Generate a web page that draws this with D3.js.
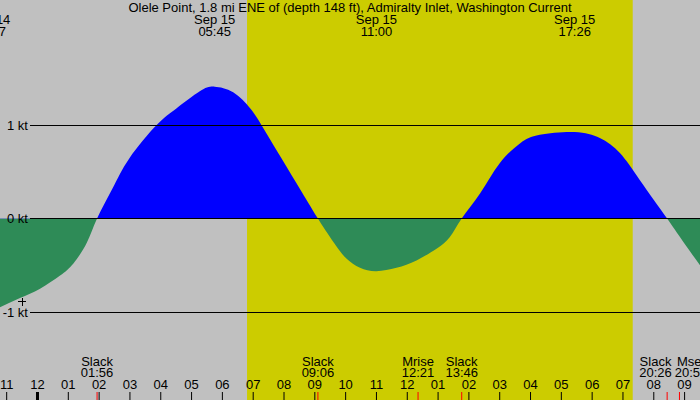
<!DOCTYPE html>
<meta charset="utf-8">
<body style="margin:0">
<script src="https://d3js.org/d3.v7.min.js"></script>
<script>
  // chart text and values
  var title = "Olele Point, 1.8 mi ENE of (depth 148 ft), Admiralty Inlet, Washington Current";

  var curveTimes = [
    "Sep 14 22:47", "Sep 14 23:26", "Sep 15 00:05", "Sep 15 00:44", "Sep 15 01:10", "Sep 15 01:36",
    "Sep 15 01:56", "Sep 15 02:26", "Sep 15 02:59", "Sep 15 03:52", "Sep 15 04:31", "Sep 15 05:16",
    "Sep 15 05:45", "Sep 15 06:21", "Sep 15 06:54", "Sep 15 07:16", "Sep 15 07:55", "Sep 15 08:34",
    "Sep 15 09:06", "Sep 15 09:23", "Sep 15 09:43", "Sep 15 10:02", "Sep 15 10:28", "Sep 15 11:00",
    "Sep 15 11:39", "Sep 15 12:18", "Sep 15 12:57", "Sep 15 13:23", "Sep 15 13:46", "Sep 15 14:22",
    "Sep 15 15:00", "Sep 15 15:40", "Sep 15 16:18", "Sep 15 17:26", "Sep 15 18:15", "Sep 15 18:54",
    "Sep 15 19:33", "Sep 15 20:26", "Sep 15 21:00", "Sep 15 21:30"
  ];
  var curveSpeeds = [
    -0.95, -0.85, -0.75, -0.61, -0.48, -0.26,
    0, 0.32, 0.645, 1.0, 1.18, 1.36,
    1.41, 1.35, 1.18, 1.0, 0.645, 0.29,
    0, -0.144, -0.305, -0.43, -0.527, -0.563,
    -0.527, -0.448, -0.323, -0.198, 0, 0.27,
    0.59, 0.806, 0.896, 0.925, 0.86, 0.70,
    0.41, 0, -0.27, -0.50
  ];

  var maxTimes = ["Sep 14 22:27", "Sep 15 05:45", "Sep 15 11:00", "Sep 15 17:26"];

  var eventNames = ["Slack", "Slack", "Mrise", "Slack", "Slack", "Mset"];
  var eventTimes = ["Sep 15 01:56", "Sep 15 09:06", "Sep 15 12:21", "Sep 15 13:46", "Sep 15 20:26", "Sep 15 20:50"];

  var sunTimes = ["Sep 15 06:48", "Sep 15 19:19"];   // sunrise, sunset
  var speedTicks = [1, 0, -1];
  var speedLabels = ["1 kt", "0 kt", "-1 kt"];
  var markTime = "Sep 14 23:30", markSpeed = -0.89;
  var timeRange = ["Sep 14 22:47", "Sep 15 21:30"];

  var width = 700, height = 400;
  var parse = d3.timeParse("%b %d %H:%M");
  var font = "'Liberation Sans', Arial, sans-serif";

  var x = d3.scaleTime().domain(timeRange.map(parse)).range([0, width]);
  var y = d3.scaleLinear().domain([-1, 1]).range([312, 125]);

  var svg = d3.select("body").append("svg")
      .attr("width", width).attr("height", height)
      .style("font-family", font).style("font-size", "13px");

  // night / day background
  svg.append("rect").attr("width", width).attr("height", height).attr("fill", "#c0c0c0");
  svg.append("rect")
      .attr("x", x(parse(sunTimes[0])))
      .attr("width", x(parse(sunTimes[1])) - x(parse(sunTimes[0])))
      .attr("height", height)
      .attr("fill", "#cccc00");

  // flood above zero, ebb below
  var pts = curveTimes.map(function(t, i) { return [parse(t), curveSpeeds[i]]; });
  var area = d3.area()
      .curve(d3.curveNatural)
      .x(function(d) { return x(d[0]); })
      .y0(y(0))
      .y1(function(d) { return y(d[1]); });

  var defs = svg.append("defs");
  defs.append("clipPath").attr("id", "above")
    .append("rect").attr("width", width).attr("height", y(0));
  defs.append("clipPath").attr("id", "below")
    .append("rect").attr("y", y(0)).attr("width", width).attr("height", height - y(0));

  svg.append("path").datum(pts).attr("d", area).attr("fill", "#0000ff").attr("clip-path", "url(#above)");
  svg.append("path").datum(pts).attr("d", area).attr("fill", "#2e8b57").attr("clip-path", "url(#below)");

  // speed lines + labels
  speedTicks.forEach(function(v, i) {
    svg.append("line")
        .attr("x1", 30).attr("x2", width)
        .attr("y1", y(v)).attr("y2", y(v))
        .attr("stroke", "#000").attr("shape-rendering", "crispEdges");
    svg.append("text")
        .attr("x", 28).attr("y", y(v)).attr("dy", "0.35em")
        .attr("text-anchor", "end")
        .text(speedLabels[i]);
  });

  // small plus marker
  var mx = x(parse(markTime)), my = y(markSpeed);
  svg.append("path")
      .attr("d", "M" + (mx - 4) + "," + my + "H" + (mx + 4) + "M" + mx + "," + (my - 4) + "V" + (my + 4))
      .attr("stroke", "#000").attr("shape-rendering", "crispEdges");

  // title
  svg.append("text").attr("x", width / 2).attr("y", 12)
      .attr("text-anchor", "middle").text(title);

  // max current labels on top
  var fDate = d3.timeFormat("%b %d"), fTime = d3.timeFormat("%H:%M");
  maxTimes.forEach(function(t) {
    var d = parse(t);
    svg.append("text").attr("x", x(d)).attr("y", 24).attr("text-anchor", "middle").text(fDate(d));
    svg.append("text").attr("x", x(d)).attr("y", 36).attr("text-anchor", "middle").text(fTime(d));
  });

  // hour ticks
  var hours = x.ticks(d3.timeHour.every(1));
  var fHour = d3.timeFormat("%I");
  hours.forEach(function(h) {
    var px = x(h);
    var midnight = h.getHours() === 0;
    svg.append("rect")
        .attr("x", midnight ? px - 1.5 : px - 0.5).attr("y", 392)
        .attr("width", midnight ? 3 : 1).attr("height", 8)
        .attr("fill", "#000");
    svg.append("text").attr("x", px).attr("y", 389)
        .attr("text-anchor", "middle").text(fHour(h));
  });

  // slack / moon events at the bottom
  var labels = eventTimes.map(function(t, i) {
    var d = parse(t), px = x(d);
    svg.append("rect").attr("x", px - 0.5).attr("y", 392)
        .attr("width", 1).attr("height", 8).attr("fill", "#ff0000");
    var g = svg.append("g");
    var a = g.append("text").attr("y", 366).attr("text-anchor", "middle").text(eventNames[i]);
    var b = g.append("text").attr("y", 377).attr("text-anchor", "middle").text(fTime(d));
    var w = Math.max(a.node().getComputedTextLength(), b.node().getComputedTextLength());
    return { g: g, cx: px, w: w };
  });

  // push neighbouring labels apart when they would collide
  for (var i = 1; i < labels.length; i++) {
    var p = labels[i - 1], q = labels[i], gap = 3;
    var need = (p.w + q.w) / 2 + gap;
    if (q.cx - p.cx < need) {
      var mid = (p.cx + q.cx) / 2;
      p.cx = mid - need / 2;
      q.cx = mid + need / 2;
    }
  }
  labels.forEach(function(l) {
    l.g.selectAll("text").attr("x", l.cx);
  });
</script>
</body>
